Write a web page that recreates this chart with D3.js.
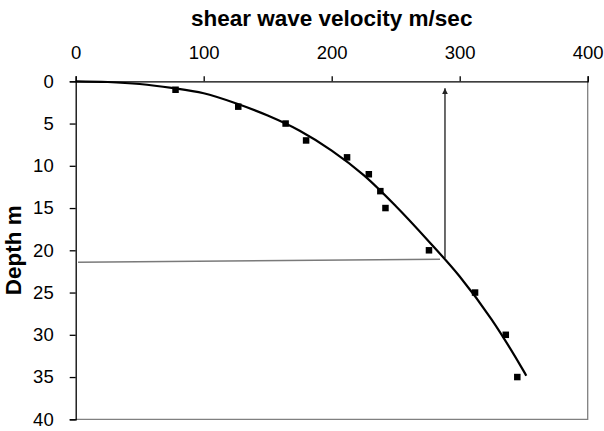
<!DOCTYPE html>
<html>
<head>
<meta charset="utf-8">
<script src="https://cdn.jsdelivr.net/npm/d3@7"></script>
<style>
  body { margin: 0; background: #fff; }
  svg { display: block; font-family: "Liberation Sans", Arial, sans-serif; }
</style>
</head>
<body>
<div id="chart"></div>
<script>
// measured points: shear wave velocity (m/sec) vs depth (m)
const velocity = [78, 127, 164, 180, 212, 229, 238, 242, 276, 312, 336, 345];
const depth = [1, 3, 5, 7, 9, 11, 13, 15, 20, 25, 30, 35];

// trend curve
const curveVelocity = [0, 25, 50, 75, 100, 125, 150, 175, 200, 225, 250, 275, 300, 325, 350, 352];
const curveDepth = [0, 0.08, 0.32, 0.78, 1.42, 2.6, 4.05, 5.85, 8.2, 11.1, 14.75, 18.8, 23.1, 28.2, 34.3, 34.85];

// guide lines: horizontal at ~21 m, arrow up at ~288 m/sec
const guideH = [[1.8, 21.4], [284.6, 21.07]];
const guideV = [[288.5, 20.9], [288.5, 0.83]];

const xTicks = [0, 100, 200, 300, 400];
const yTicks = [0, 5, 10, 15, 20, 25, 30, 35, 40];

const width = 604, height = 431;
const margin = { top: 81.3, right: 16.3, bottom: 11.7, left: 75.7 };
const w = width - margin.left - margin.right;
const h = height - margin.top - margin.bottom;

const svg = d3.select("#chart").append("svg")
    .attr("width", width)
    .attr("height", height);

const defs = svg.append("defs");
defs.append("marker")
    .attr("id", "arrow")
    .attr("viewBox", "0 0 10 10")
    .attr("refX", 10)
    .attr("refY", 5)
    .attr("markerWidth", 6)
    .attr("markerHeight", 6)
    .attr("markerUnits", "userSpaceOnUse")
    .attr("orient", "auto")
    .append("path")
    .attr("d", "M0,0 L10,5 L0,10 Z")
    .attr("fill", "#222");

const g = svg.append("g")
    .attr("transform", `translate(${margin.left},${margin.top})`);

const x = d3.scaleLinear().domain([0, 400]).range([0, w]);
const y = d3.scaleLinear().domain([0, 40]).range([0, h]);

// right and bottom frame (gray)
g.append("path")
    .attr("d", `M${w},0 V${h} H0`)
    .attr("fill", "none")
    .attr("stroke", "#808080")
    .attr("stroke-width", 1.3);

// axes
const xAxis = g.append("g")
    .call(d3.axisTop(x).tickValues(xTicks).tickSize(5).tickPadding(17).tickFormat(d3.format("d")));
const yAxis = g.append("g")
    .call(d3.axisLeft(y).tickValues(yTicks).tickSize(6).tickPadding(16).tickFormat(d3.format("d")));

[xAxis, yAxis].forEach(a => {
    a.select(".domain").attr("stroke", "#000").attr("stroke-width", 1.3);
    a.selectAll(".tick line").attr("stroke", "#000").attr("stroke-width", 1.3);
    a.selectAll(".tick text")
        .attr("font-family", "Liberation Sans, Arial, sans-serif")
        .attr("font-size", 18.5)
        .attr("fill", "#000");
});

// guide lines
const line = d3.line().x(d => x(d[0])).y(d => y(d[1]));

g.append("path")
    .attr("d", line(guideH))
    .attr("fill", "none")
    .attr("stroke", "#7a7a7a")
    .attr("stroke-width", 1.5);

g.append("path")
    .attr("d", line(guideV))
    .attr("fill", "none")
    .attr("stroke", "#3a3a3a")
    .attr("stroke-width", 1.5)
    .attr("marker-end", "url(#arrow)");

// trend curve
const trend = curveVelocity.map((v, i) => [v, curveDepth[i]]);
g.append("path")
    .attr("d", line.curve(d3.curveCatmullRom)(trend))
    .attr("fill", "none")
    .attr("stroke", "#000")
    .attr("stroke-width", 2.2);

// data points
const sq = 6.5;
g.selectAll(".pt")
    .data(velocity.map((v, i) => ({ v, d: depth[i] })))
    .join("rect")
    .attr("class", "pt")
    .attr("x", d => x(d.v) - sq / 2)
    .attr("y", d => y(d.d) - sq / 2)
    .attr("width", sq)
    .attr("height", sq)
    .attr("fill", "#000");

// titles
svg.append("text")
    .attr("x", margin.left + w / 2)
    .attr("y", 26)
    .attr("text-anchor", "middle")
    .attr("font-size", 22.5)
    .attr("font-weight", "bold")
    .text("shear wave velocity m/sec");

svg.append("text")
    .attr("transform", `translate(21,${margin.top + h / 2}) rotate(-90)`)
    .attr("text-anchor", "middle")
    .attr("font-size", 22.5)
    .attr("font-weight", "bold")
    .text("Depth m");
</script>
</body>
</html>
